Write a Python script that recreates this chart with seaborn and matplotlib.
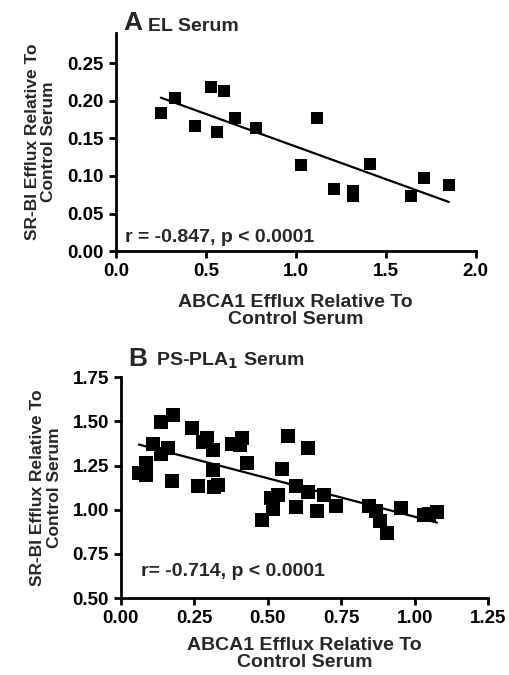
import numpy as np
import pandas as pd
import seaborn as sns
import matplotlib.pyplot as plt

# panel A: EL serum
el_abca1 = [0.25, 0.33, 0.44, 0.53, 0.56, 0.60, 0.66, 0.78, 1.03, 1.12,
            1.21, 1.32, 1.32, 1.41, 1.64, 1.71, 1.85]
el_srbi = [0.184, 0.203, 0.166, 0.218, 0.159, 0.213, 0.177, 0.164, 0.114, 0.177,
           0.083, 0.080, 0.073, 0.116, 0.073, 0.097, 0.088]

# panel B: PS-PLA1 serum
pla_abca1 = [0.061, 0.086, 0.086, 0.109, 0.135, 0.135, 0.161, 0.176, 0.174, 0.241,
             0.261, 0.278, 0.292, 0.312, 0.315, 0.318, 0.330, 0.380, 0.406, 0.411,
             0.428, 0.482, 0.510, 0.519, 0.535, 0.548, 0.569, 0.595, 0.597, 0.637,
             0.638, 0.666, 0.693, 0.733, 0.846, 0.867, 0.883, 0.906, 0.954, 1.031,
             1.048, 1.076]
pla_srbi = [1.211, 1.267, 1.196, 1.373, 1.313, 1.497, 1.347, 1.535, 1.164, 1.462,
            1.132, 1.386, 1.405, 1.339, 1.226, 1.128, 1.139, 1.373, 1.367, 1.405,
            1.267, 0.943, 1.069, 1.005, 1.081, 1.230, 1.418, 1.018, 1.132, 1.098,
            1.348, 0.994, 1.084, 1.022, 1.022, 0.994, 0.937, 0.871, 1.009, 0.971,
            0.975, 0.985]

sns.set_theme(style='ticks')
plt.rcParams['font.family'] = ['Liberation Sans', 'DejaVu Sans']
plt.rcParams['font.weight'] = 'bold'
plt.rcParams['axes.labelweight'] = 'bold'
plt.rcParams['mathtext.default'] = 'bf'

fig = plt.figure(figsize=(5.1, 6.75), dpi=100)
axA = fig.add_axes([0.227, 0.628, 0.706, 0.323])
axB = fig.add_axes([0.237, 0.114, 0.720, 0.327])

dfA = pd.DataFrame({'x': el_abca1, 'y': el_srbi})
dfB = pd.DataFrame({'x': pla_abca1, 'y': pla_srbi})

for ax, df, ms, pad in [(axA, dfA, 85, 10), (axB, dfB, 95, 7)]:
    sns.regplot(data=df, x='x', y='y', ax=ax, ci=None, marker='s', color='black',
                scatter_kws={'s': ms, 'alpha': 1, 'linewidths': 0},
                line_kws={'lw': 1.6, 'color': 'black'})
    sns.despine(ax=ax)
    for s in ['left', 'bottom']:
        ax.spines[s].set_linewidth(2)
        ax.spines[s].set_color('black')
    ax.tick_params(width=2, length=5, labelsize=13.5, colors='black')
    for lab in ax.get_xticklabels() + ax.get_yticklabels():
        lab.set_fontweight('bold')
    ax.set_xlabel('ABCA1 Efflux Relative To\nControl Serum', fontsize=14, labelpad=pad,
                  linespacing=1.05)
    ax.set_ylabel('SR-BI Efflux Relative To\nControl Serum', fontsize=12.5, labelpad=8,
                  linespacing=1.15)

axA.set_xlim(0, 2.0)
axA.set_ylim(0, 0.29)
axA.set_xticks([0.0, 0.5, 1.0, 1.5, 2.0])
axA.set_xticklabels(['0.0', '0.5', '1.0', '1.5', '2.0'])
axA.set_yticks([0.0, 0.05, 0.10, 0.15, 0.20, 0.25])
axA.set_yticklabels(['0.00', '0.05', '0.10', '0.15', '0.20', '0.25'])
axA.text(0.025, 0.04, 'r = -0.847, p < 0.0001', transform=axA.transAxes,
         fontsize=14, fontweight='bold')
axA.text(0.02, 0.99, 'A', transform=axA.transAxes, fontsize=19, fontweight='bold', va='bottom')
axA.text(0.09, 0.99, 'EL Serum', transform=axA.transAxes, fontsize=14,
         fontweight='bold', va='bottom')

axB.set_xlim(0, 1.25)
axB.set_ylim(0.5, 1.75)
axB.set_xticks([0.0, 0.25, 0.5, 0.75, 1.0, 1.25])
axB.set_xticklabels(['0.00', '0.25', '0.50', '0.75', '1.00', '1.25'])
axB.set_yticks([0.5, 0.75, 1.0, 1.25, 1.5, 1.75])
axB.set_yticklabels(['0.50', '0.75', '1.00', '1.25', '1.50', '1.75'])
axB.text(0.055, 0.1, 'r= -0.714, p < 0.0001', transform=axB.transAxes,
         fontsize=14, fontweight='bold')
axB.text(0.02, 1.03, 'B', transform=axB.transAxes, fontsize=19, fontweight='bold', va='bottom')
axB.text(0.095, 1.03, r'PS-PLA$_1$ Serum', transform=axB.transAxes, fontsize=14,
         fontweight='bold', va='bottom')

fig.savefig('out.png', dpi=100)
